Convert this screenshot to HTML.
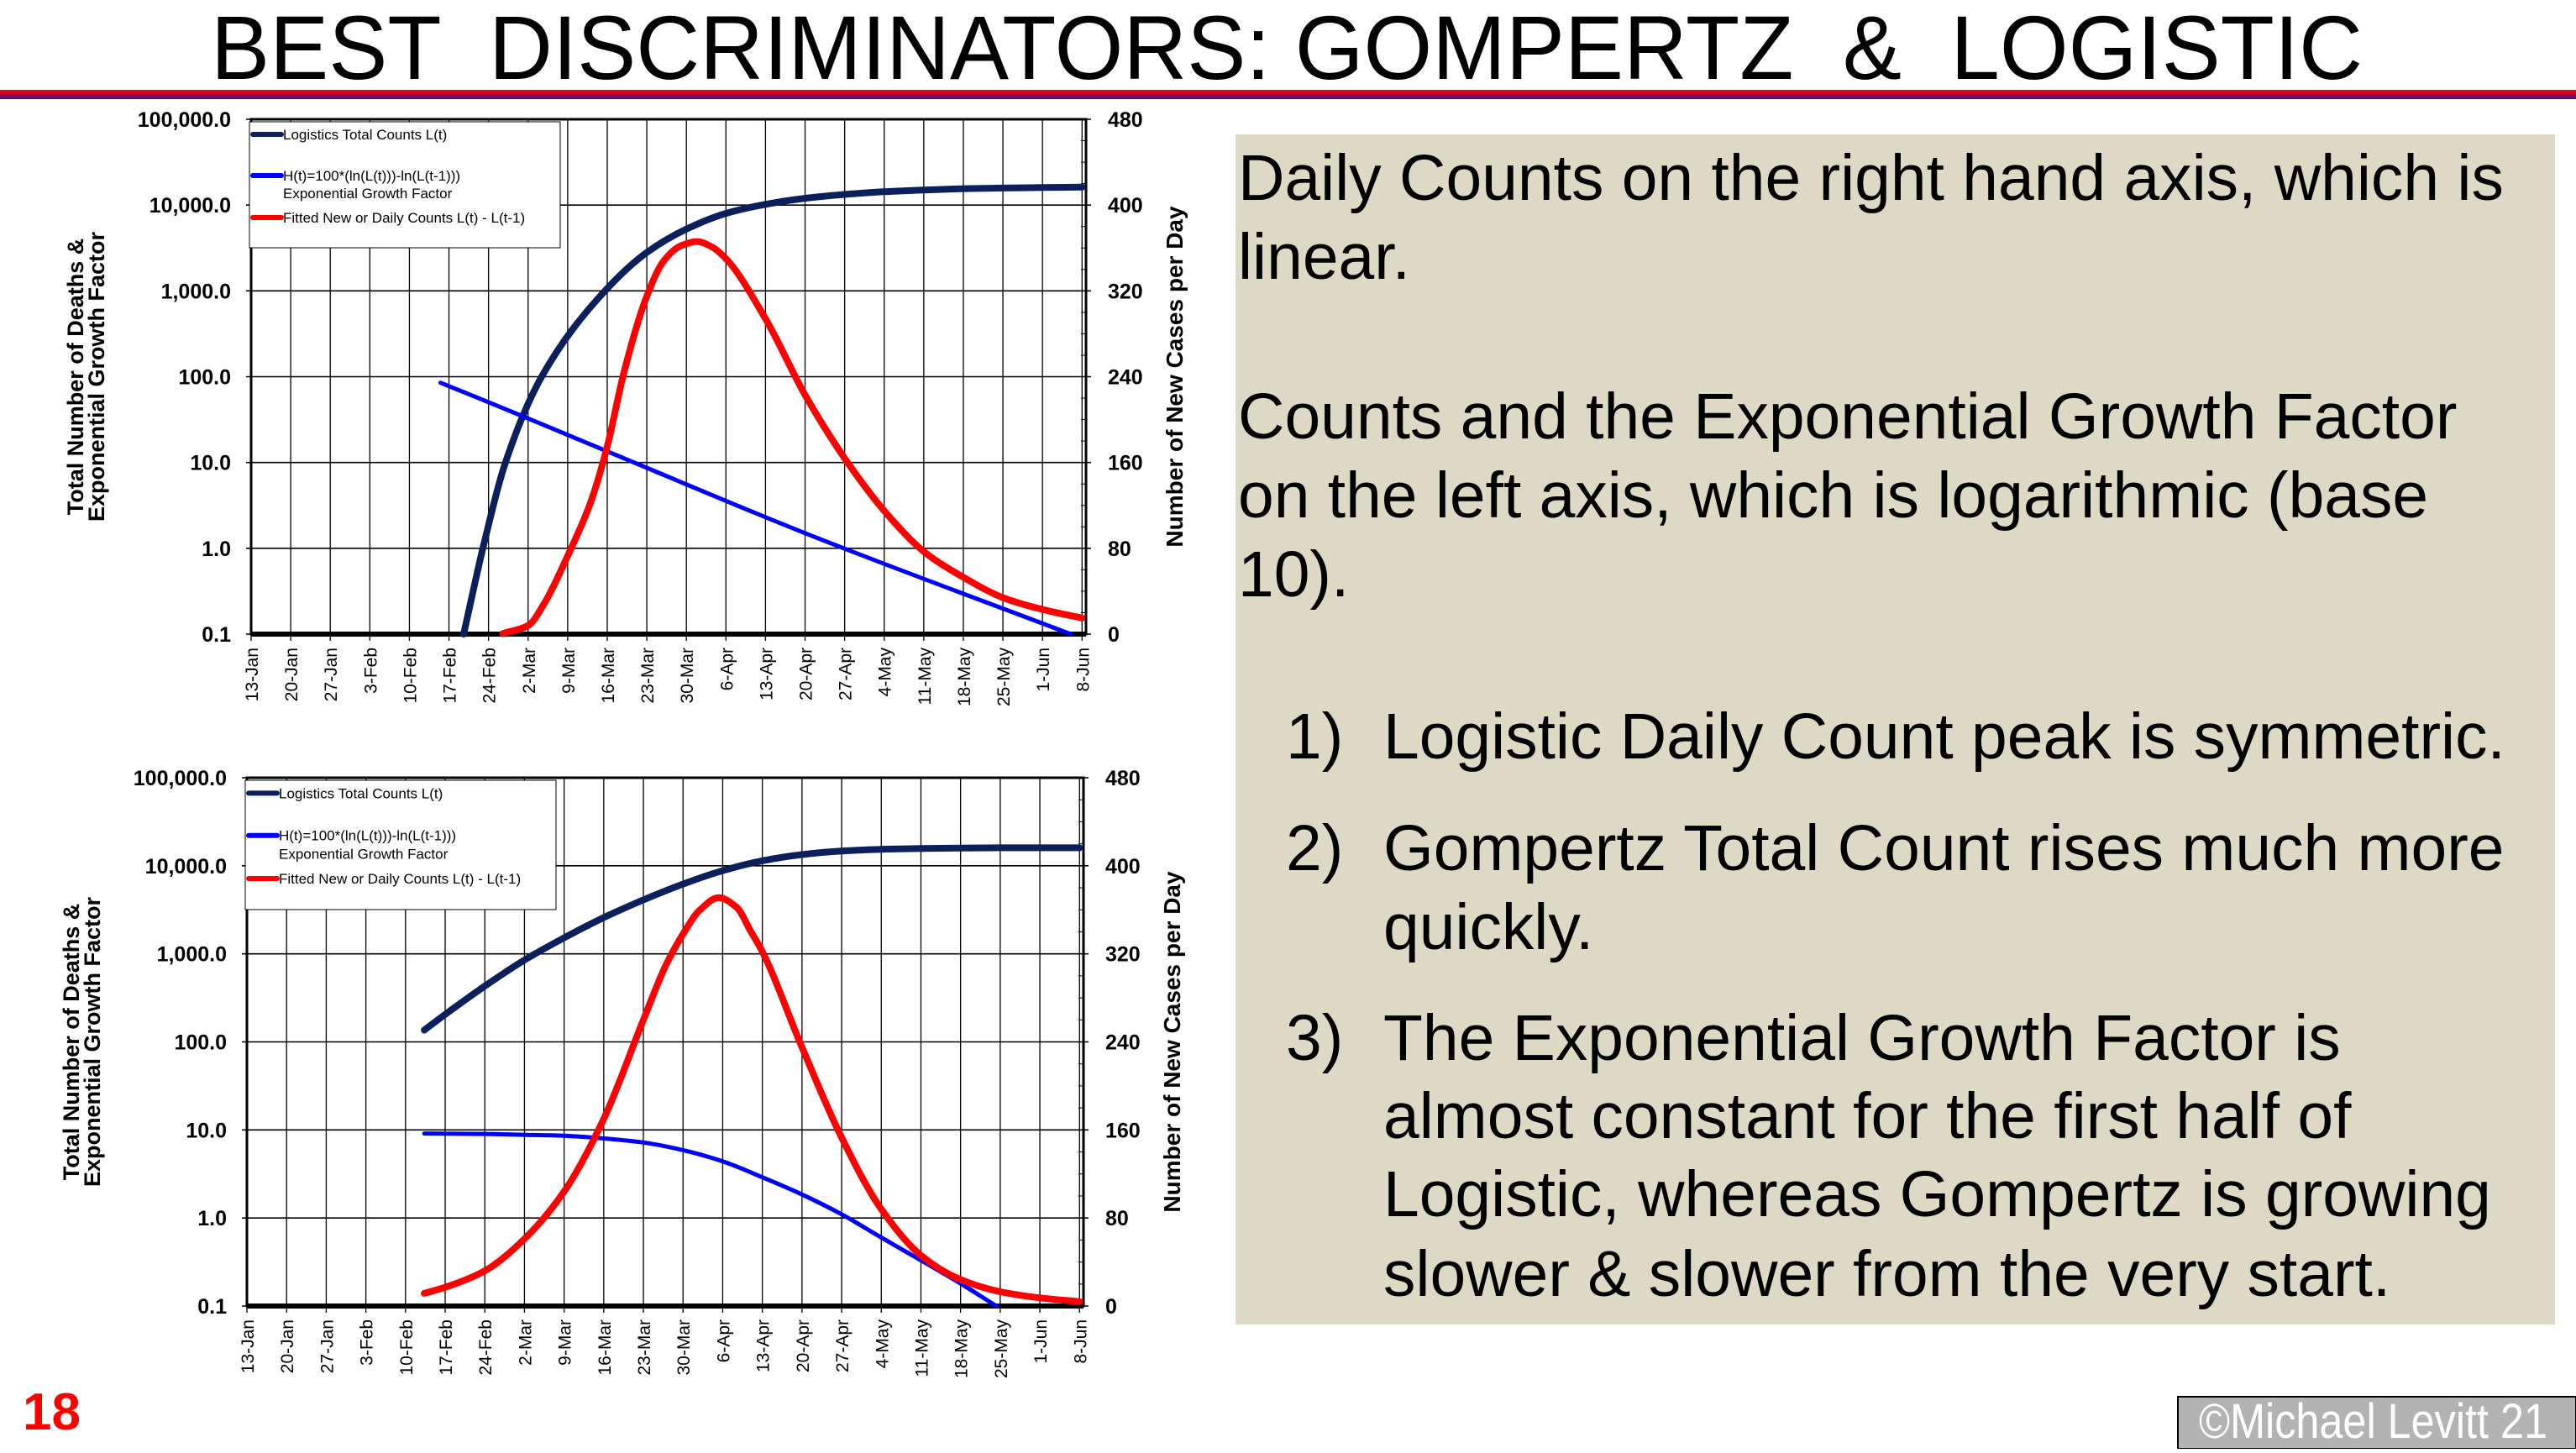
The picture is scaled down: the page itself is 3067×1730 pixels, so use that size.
<!DOCTYPE html>
<html><head><meta charset="utf-8"><style>
html,body{margin:0;padding:0;background:#fff;}
body{width:3067px;height:1725px;overflow:hidden;position:relative;font-family:"Liberation Sans",sans-serif;}
</style></head><body>
<svg id="root" width="3067" height="1725" viewBox="0 0 3067 1725" xmlns="http://www.w3.org/2000/svg" font-family="Liberation Sans, sans-serif">
<defs><linearGradient id="tl" x1="0" y1="0" x2="0" y2="1"><stop offset="0" stop-color="#ff0000"/><stop offset="0.45" stop-color="#c00030"/><stop offset="1" stop-color="#2a1a9a"/></linearGradient></defs>
<text x="1532" y="94" font-size="108" text-anchor="middle" textLength="2562" lengthAdjust="spacingAndGlyphs" style="white-space:pre">BEST  DISCRIMINATORS: GOMPERTZ  &amp;  LOGISTIC</text>
<rect x="0" y="107" width="3067" height="11" fill="url(#tl)"/>
<rect x="1471" y="160" width="1571" height="1417" fill="#ddd9c4"/>
<g font-size="76.8" fill="#000">
<text x="1474" y="238">Daily Counts on the right hand axis, which is</text>
<text x="1474" y="332">linear.</text>
<text x="1474" y="522">Counts and the Exponential Growth Factor</text>
<text x="1474" y="616">on the left axis, which is logarithmic (base</text>
<text x="1474" y="710">10).</text>
<text x="1531" y="903">1)</text><text x="1647" y="903">Logistic Daily Count peak is symmetric.</text>
<text x="1531" y="1036">2)</text><text x="1647" y="1036">Gompertz Total Count rises much more</text>
<text x="1647" y="1130">quickly.</text>
<text x="1531" y="1262">3)</text><text x="1647" y="1262">The Exponential Growth Factor is</text>
<text x="1647" y="1355">almost constant for the first half of</text>
<text x="1647" y="1448">Logistic, whereas Gompertz is growing</text>
<text x="1647" y="1543">slower &amp; slower from the very start.</text>
</g>
<text x="27" y="1702" font-size="62" font-weight="bold" fill="#ff0000">18</text>
<rect x="2593" y="1663" width="474" height="62" fill="#b3b3b3" stroke="#000" stroke-width="2"/>
<text x="2618" y="1712" font-size="58" fill="#fff" textLength="415" lengthAdjust="spacingAndGlyphs">©Michael Levitt 21</text>
<g id="c1"></g>
<g id="c2"></g>
</svg>
<script>
const dateLabels = ["13-Jan","20-Jan","27-Jan","3-Feb","10-Feb","17-Feb","24-Feb","2-Mar","9-Mar","16-Mar","23-Mar","30-Mar","6-Apr","13-Apr","20-Apr","27-Apr","4-May","11-May","18-May","25-May","1-Jun","8-Jun"];
const leftTicks = ["0.1","1.0","10.0","100.0","1,000.0","10,000.0","100,000.0"];
const rightTicks = ["0","80","160","240","320","400","480"];
// chart 1 (top)
const top_L_days = [37.6,41,45,51.4,62.6,70,77,84,91,98,105,112,119,126,133,140,147];
const top_L_vals = [0.1,1.0,10,100,1000,2800,5250,8000,10200,12000,13300,14300,15000,15500,15800,16000,16200];
const top_H_days = [33.5,35.8,63,98,145];
const top_H_vals = [85,74,13.5,1.5,0.1];
const top_D_days = [44.5,49,52,56,60,63,66,70,73,76,78.9,81.5,84,91,98,105,112,119,126,133,140,147];
const top_D_vals = [0.5,8,30,73,122,175,245,315,348,362,366,361,350,294,223,164,115,77,53,34,23,15];
// chart 2 (bottom)
const bot_L_days = [31.3,35,42,49,56,63,70,77,84,91,98,105,112,119,126,133,140,147];
const bot_L_vals = [136,205,430,850,1520,2580,4100,6200,8800,11400,13400,14700,15400,15700,15900,16000,16000,16000];
const bot_H_days = [31.3,42,49,56,63,70,77,84,91,98,105,112,119,126,132.3];
const bot_H_vals = [9.1,9.0,8.8,8.6,8.0,7.2,5.9,4.4,2.9,1.85,1.1,0.6,0.33,0.18,0.1];
const bot_D_days = [31.3,35,42,49,56,63,70,74,77,80,83.3,86.5,89,91,98,105,112,119,126,133,140,147];
const bot_D_vals = [11.5,17,32,61,104,170,260,310,338,360,371,362,340,322,235,153,88,46,24,13,7.4,4];

const NS="http://www.w3.org/2000/svg";
function mk(tag,attrs,parent){const e=document.createElementNS(NS,tag);for(const k in attrs)e.setAttribute(k,attrs[k]);parent.appendChild(e);return e;}
// monotone cubic (Fritsch-Carlson) path through points with increasing x
function smooth(p){
 const n=p.length,dx=[],s=[],m=[];
 for(let i=0;i<n-1;i++){dx[i]=p[i+1][0]-p[i][0];s[i]=(p[i+1][1]-p[i][1])/dx[i];}
 m[0]=s[0];m[n-1]=s[n-2];
 for(let i=1;i<n-1;i++){ if(s[i-1]*s[i]<=0) m[i]=0; else { const w1=2*dx[i]+dx[i-1],w2=dx[i]+2*dx[i-1]; m[i]=(w1+w2)/(w1/s[i-1]+w2/s[i]); } }
 let d="M"+p[0][0].toFixed(1)+","+p[0][1].toFixed(1);
 for(let i=0;i<n-1;i++){const h=dx[i]/3;
  d+=" C"+(p[i][0]+h).toFixed(1)+","+(p[i][1]+m[i]*h).toFixed(1)+" "+(p[i+1][0]-h).toFixed(1)+","+(p[i+1][1]-m[i+1]*h).toFixed(1)+" "+p[i+1][0].toFixed(1)+","+p[i+1][1].toFixed(1);}
 return d;}

function chart(g,x0,x1,y0,y1,L,H,D,pre){
 const xs=d=>x0+(x1-x0)*d/147.7;
 const yl=v=>y1-(y1-y0)*(Math.log10(v)+1)/6;
 const yr=v=>y1-(y1-y0)*v/480;
 mk('rect',{x:x0,y:y0,width:x1-x0,height:y1-y0,fill:'#fff'},g);
 for(let i=0;i<dateLabels.length;i++){
  const x=xs(i*7);
  const l=mk('line',{x1:x,x2:x,y1:y0,y2:y1+8,stroke:'#000','stroke-width':1.3},g);
  
  
  const t=mk('text',{x:0,y:0,transform:`translate(${x+8},${y1+16}) rotate(-90)`,'font-size':21,'text-anchor':'end'},g);
  t.textContent=dateLabels[i];
  
  
 }
 for(let i=0;i<leftTicks.length;i++){
  const y=y1-(y1-y0)*i/6;
  const l=mk('line',{x1:x0-6,x2:x1+6,y1:y,y2:y,stroke:'#000','stroke-width':1.6},g);
  
  
  const t=mk('text',{x:x0-24,y:y+9,'font-size':25,'font-weight':'bold','text-anchor':'end'},g);
  t.textContent=leftTicks[i];
  
  
  const r=mk('text',{x:x1+26,y:y+9,'font-size':25,'font-weight':'bold'},g);
  r.textContent=rightTicks[i];
  
  
 }
 for(let k=0;k<24;k++){const y=y1-(y1-y0)*k/24;mk('line',{x1:x1-6,x2:x1,y1:y,y2:y,stroke:'#000','stroke-width':1},g);}
 mk('rect',{x:x0,y:y0,width:x1-x0,height:y1-y0,fill:'none',stroke:'#000','stroke-width':3},g);
 mk('line',{x1:x0,x2:x1,y1:y1,y2:y1,stroke:'#000','stroke-width':6},g);
 const yt=mk('text',{transform:`translate(${x0-200},${(y0+y1)/2}) rotate(-90)`,'font-size':27,'font-weight':'bold','text-anchor':'middle'},g);
 yt.innerHTML=`<tspan x="0" dy="0">Total Number of Deaths &amp;</tspan><tspan x="0" dy="25">Exponential Growth Factor</tspan>`;
 
 
 const rt=mk('text',{transform:`translate(${x1+115},${(y0+y1)/2}) rotate(-90)`,'font-size':28,'font-weight':'bold','text-anchor':'middle'},g);
 rt.textContent='Number of New Cases per Day';
 
 
 const pL=mk('path',{d:smooth(L[0].map((d,i)=>[xs(d),yl(L[1][i])])),fill:'none',stroke:'#0a1f5c','stroke-width':8,'stroke-linecap':'round'},g);
 
 
 const pH=mk('path',{d:smooth(H[0].map((d,i)=>[xs(d),yl(H[1][i])])),fill:'none',stroke:'#0000ff','stroke-width':5,'stroke-linecap':'round'},g);
 
 
 const pD=mk('path',{d:smooth(D[0].map((d,i)=>[xs(d),yr(D[1][i])])),fill:'none',stroke:'#ff0000','stroke-width':8,'stroke-linecap':'round'},g);
 
 
 const lg=mk('g',{},g);
 
 
 const lx=x0-2,ly=y0+3;
 mk('rect',{x:lx,y:ly,width:370,height:pre,fill:'#fff',stroke:'#000','stroke-width':1},lg);
 const ents=[['#0a1f5c',15,'Logistics Total Counts L(t)'],['#0000ff',64,'H(t)=100*(ln(L(t)))-ln(L(t-1)))'],['#ff0000',114,'Fitted New or Daily Counts L(t) - L(t-1)']];
 const sc=pre/150;
 ents.forEach(e=>{const yy=ly+e[1]*sc;
  const s=mk('line',{x1:lx+4,x2:lx+38,y1:yy,y2:yy,stroke:e[0],'stroke-width':6,'stroke-linecap':'round'},lg);
  
  
  const t=mk('text',{x:lx+40,y:yy+6,'font-size':17},lg);t.textContent=e[2];
  
  });
 const t2=mk('text',{x:lx+40,y:ly+85*sc+6,'font-size':17},lg);t2.textContent='Exponential Growth Factor';
 
 
}
chart(document.getElementById('c1'),299,1293,142,755,[top_L_days,top_L_vals],[top_H_days,top_H_vals],[top_D_days,top_D_vals],150);
chart(document.getElementById('c2'),294,1290,926,1555,[bot_L_days,bot_L_vals],[bot_H_days,bot_H_vals],[bot_D_days,bot_D_vals],154);
</script>
</body></html>
